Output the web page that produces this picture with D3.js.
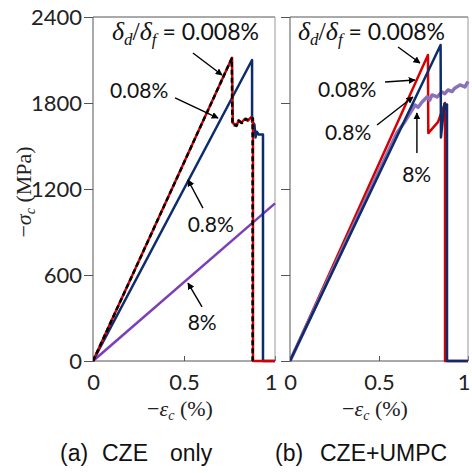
<!DOCTYPE html>
<html>
<head>
<meta charset="utf-8">
<script src="https://cdn.jsdelivr.net/npm/d3@7/dist/d3.min.js"></script>
<style>
  html, body { margin: 0; padding: 0; background: #fff; }
  svg { display: block; }
  .tick text { font-family: Lato, "Open Sans", sans-serif; font-size: 22px; fill: #222; }
  .note { font-family: Lato, "Open Sans", sans-serif; font-size: 21px; fill: #111; }
  .serif { font-family: "Liberation Serif", "DejaVu Serif", serif; }
  .caption { font-family: "Liberation Sans", Arial, sans-serif; font-size: 23px; fill: #111; }
</style>
</head>
<body>
<svg id="chart"></svg>
<script>
// ---- data (strain in %, stress in MPa) ----
const yTicks = [0, 600, 1200, 1800, 2400];
const xTicks = [0, 0.5, 1];
const xTickLabels = ["0", "0.5", "1"];

// (a) CZE only
const aRed = [[0,0],[0.764,2115],[0.768,1660],[0.79,1645],[0.80,1680],[0.815,1662],[0.835,1690],[0.85,1676],[0.868,1700],[0.879,1690],[0.879,0],[1,0]];
const aDash = [[0,0],[0.762,2110],[0.766,1650],[0.788,1640],[0.80,1675],[0.82,1660],[0.84,1690],[0.855,1680],[0.877,1695],[0.877,0]];
const aBlue = [[0,0],[0.874,2100],[0.874,1670],[0.887,1650],[0.893,1560],[0.90,1600],[0.91,1580],[0.934,1580],[0.934,0],[1,0]];
const aPurple = [[0,0],[1,1100]];

// (b) CZE+UMPC
const bRed = [[0,0],[0.775,2135],[0.777,1590],[0.831,1667],[0.871,1800],[0.871,0],[1,0]];
const bBlue = [[0,0],[0.846,2205],[0.848,1560],[0.868,1795],[0.874,1760],[0.882,1790],[0.882,0],[1,0]];
const bPurple = [[0,0],[0.6,1590],[0.64,1660],[0.66,1700],[0.68,1740],[0.702,1786],[0.72,1770],[0.742,1807],[0.77,1842],[0.785,1820],[0.798,1856],[0.826,1842],[0.854,1877],[0.87,1865],[0.888,1891],[0.91,1880],[0.927,1905],[0.955,1926],[0.983,1912],[1,1950]];

// annotation labels: text, label anchor [eps, MPa], arrow from, arrow tip
const aNotes = [
  { text: "0.08%", at: [0.093, 1835], from: [0.451, 1835], to: [0.687, 1695] },
  { text: "0.8%",  at: [0.52, 900],   from: [0.604, 1067], to: [0.522, 1263] },
  { text: "8%",    at: [0.52, 216],   from: [0.599, 377],  to: [0.522, 544] }
];
const aRatio = { at: [0.104, 2240], from: [0.549, 2149], to: [0.709, 1995] };

const bNotes = [
  { text: "0.08%", at: [0.157, 1842], from: [0.534, 1947], to: [0.702, 1960] },
  { text: "0.8%",  at: [0.197, 1542], from: [0.489, 1647], to: [0.691, 1842] },
  { text: "8%",    at: [0.63, 1249],  from: [0.713, 1451], to: [0.713, 1730] }
];
const bRatio = { at: [0.045, 2240], from: [0.607, 2191], to: [0.730, 2079] };

// ---- layout ----
const W = 472, H = 473;
const plotTop = 17, plotBottom = 361;
const svg = d3.select("#chart").attr("width", W).attr("height", H);
svg.append("rect").attr("width", W).attr("height", H).attr("fill", "#fff");

const defs = svg.append("defs");
defs.append("marker")
  .attr("id", "arrow")
  .attr("viewBox", "0 0 10 10")
  .attr("refX", 9).attr("refY", 5)
  .attr("markerWidth", 7).attr("markerHeight", 7)
  .attr("markerUnits", "userSpaceOnUse")
  .attr("orient", "auto")
  .append("path").attr("d", "M0,0 L10,5 L0,10 z").attr("fill", "#000");

const y = d3.scaleLinear().domain([0, 2400]).range([plotBottom, plotTop]);

function ratioLabel(g, x, yy, pos) {
  const t = g.append("text").attr("class", "note")
    .attr("x", x(pos.at[0])).attr("y", yy(pos.at[1]))
    .style("font-size", "23px");
  t.append("tspan").attr("class", "serif").style("font-style", "italic").style("font-size", "26px").text("δ");
  t.append("tspan").attr("class", "serif").style("font-style", "italic").style("font-size", "17px").attr("dy", 5).text("d");
  t.append("tspan").attr("class", "serif").style("font-size", "26px").attr("dy", -5).text("/");
  t.append("tspan").attr("class", "serif").style("font-style", "italic").style("font-size", "26px").text("δ");
  t.append("tspan").attr("class", "serif").style("font-style", "italic").style("font-size", "17px").attr("dy", 5).text("f");
  t.append("tspan").attr("dy", -5).text(" = 0.008%");
  g.append("line")
    .attr("x1", x(pos.from[0])).attr("y1", yy(pos.from[1]))
    .attr("x2", x(pos.to[0])).attr("y2", yy(pos.to[1]))
    .attr("stroke", "#000").attr("stroke-width", 1.4)
    .attr("marker-end", "url(#arrow)");
}

function panel(id, x0, x1, series, notes, ratio, showYLabels) {
  const x = d3.scaleLinear().domain([0, 1]).range([x0, x1]);
  const g = svg.append("g");

  defs.append("clipPath").attr("id", "clip-" + id)
    .append("rect").attr("x", x0).attr("y", plotTop - 2)
    .attr("width", x1 - x0 + 2).attr("height", plotBottom - plotTop + 4);

  // y axis
  g.append("g")
    .attr("transform", `translate(${x0},0)`)
    .call(d3.axisLeft(y).tickValues(yTicks).tickSize(9).tickSizeOuter(0).tickPadding(2)
      .tickFormat(showYLabels ? d3.format("d") : () => ""))
    .call(a => a.select(".domain").remove())
    .call(a => a.selectAll(".tick line").attr("stroke", "#555"));

  // x axis (ticks inward)
  g.append("g")
    .attr("transform", `translate(0,${plotBottom})`)
    .call(d3.axisBottom(x).tickValues(xTicks).tickSize(-5).tickSizeOuter(0).tickPadding(13)
      .tickFormat((d, i) => xTickLabels[i]))
    .call(a => a.select(".domain").remove())
    .call(a => a.selectAll(".tick line").attr("stroke", "#555"))
    .call(a => a.selectAll(".tick text").filter(d => d === 1)
      .attr("text-anchor", "end").attr("dx", 2));

  // frame
  g.append("line").attr("x1", x0).attr("x2", x1).attr("y1", plotTop).attr("y2", plotTop).attr("stroke", "#555");
  g.append("line").attr("x1", x1).attr("x2", x1).attr("y1", plotTop).attr("y2", plotBottom).attr("stroke", "#999");
  g.append("line").attr("x1", x0).attr("x2", x0).attr("y1", plotTop).attr("y2", plotBottom).attr("stroke", "#555");
  g.append("line").attr("x1", x0).attr("x2", x1).attr("y1", plotBottom).attr("y2", plotBottom).attr("stroke", "#555");

  const line = d3.line().x(d => x(d[0])).y(d => y(d[1]));
  const lines = g.append("g").attr("clip-path", `url(#clip-${id})`);
  series.forEach(s => {
    lines.append("path")
      .datum(s.data)
      .attr("d", line)
      .attr("fill", "none")
      .attr("stroke", s.color)
      .attr("stroke-width", s.width)
      .attr("stroke-dasharray", s.dash || null)
      .attr("stroke-linejoin", "round")
      .attr("opacity", s.opacity || 1);
  });

  // x axis title
  const xt = g.append("text").attr("class", "serif")
    .attr("x", (x0 + x1) / 2 - 4).attr("y", 416)
    .attr("text-anchor", "middle")
    .style("font-size", "22px").attr("fill", "#222");
  xt.append("tspan").text("−");
  xt.append("tspan").style("font-style", "italic").text("ε");
  xt.append("tspan").style("font-style", "italic").style("font-size", "14px").attr("dy", 4).text("c");
  xt.append("tspan").attr("dy", -4).text(" (%)");

  // annotations
  notes.forEach(n => {
    g.append("text").attr("class", "note")
      .attr("x", x(n.at[0])).attr("y", y(n.at[1]))
      .text(n.text);
    g.append("line")
      .attr("x1", x(n.from[0])).attr("y1", y(n.from[1]))
      .attr("x2", x(n.to[0])).attr("y2", y(n.to[1]))
      .attr("stroke", "#000").attr("stroke-width", 1.4)
      .attr("marker-end", "url(#arrow)");
  });
  ratioLabel(g, x, y, ratio);
}

panel("a", 93, 275, [
  { data: aPurple, color: "#7b3fb8", width: 2.5 },
  { data: aBlue, color: "#0c2c6c", width: 2.5 },
  { data: aRed, color: "#d60000", width: 2.5 },
  { data: aDash, color: "#000", width: 2.5, dash: "5,3" }
], aNotes, aRatio, true);

panel("b", 290, 468, [
  { data: bRed, color: "#d60000", width: 2.5 },
  { data: bPurple, color: "#8a70b8", width: 3.5 },
  { data: bBlue, color: "#0c2c6c", width: 2.5 }
], bNotes, bRatio, false);

// y axis title
const yt = svg.append("text").attr("class", "serif")
  .attr("transform", "translate(31,192) rotate(-90)")
  .attr("text-anchor", "middle")
  .style("font-size", "22px").attr("fill", "#222");
yt.append("tspan").text("−");
yt.append("tspan").style("font-style", "italic").text("σ");
yt.append("tspan").style("font-style", "italic").style("font-size", "14px").attr("dy", 4).text("c");
yt.append("tspan").attr("dy", -4).text(" (MPa)");

// captions
const capA = svg.append("text").attr("class", "caption").attr("y", 461);
capA.append("tspan").attr("x", 60).text("(a)");
capA.append("tspan").attr("x", 102).text("CZE");
capA.append("tspan").attr("x", 170).text("only");
const capB = svg.append("text").attr("class", "caption").attr("y", 461);
capB.append("tspan").attr("x", 275).text("(b)");
capB.append("tspan").attr("x", 320).text("CZE+UMPC");
</script>
</body>
</html>
